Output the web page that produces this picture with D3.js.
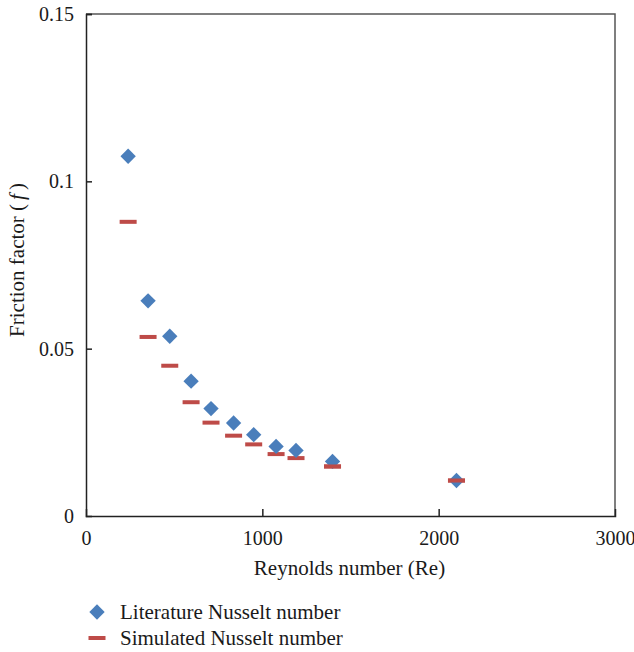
<!DOCTYPE html>
<html>
<head>
<meta charset="utf-8">
<script src="https://cdn.jsdelivr.net/npm/d3@7"></script>
<style>
  body { margin: 0; background: #fff; }
  text { font-family: 'Liberation Serif', 'DejaVu Serif', serif; fill: #1a1a1a; }
</style>
</head>
<body>
<div id="chart"></div>
<script>
// Reynolds numbers
var reynolds = [239, 352, 475, 596, 709, 837, 951, 1078, 1191, 1398, 2101]
// friction factors
var literature = [0.1075, 0.0643, 0.0537, 0.0403, 0.0321, 0.0278, 0.0243, 0.0208, 0.0196, 0.0163, 0.0106]
var simulated = [0.0879, 0.0535, 0.0449, 0.0340, 0.0279, 0.0240, 0.0214, 0.0185, 0.0173, 0.0148, 0.0106]
var xTicks = [0, 1000, 2000, 3000]
var yTicks = [0, 0.05, 0.1, 0.15]
var legendNames = ['Literature Nusselt number', 'Simulated Nusselt number']

const WIDTH = 634
const HEIGHT = 652
var margin = {top: 14, right: 19, bottom: 136, left: 86}
var w = WIDTH - margin.left - margin.right
var h = HEIGHT - margin.top - margin.bottom

var blue = '#4a7ebb'
var red = '#be4b48'

var svg = d3.select('#chart').append('svg')
  .attr('width', WIDTH)
  .attr('height', HEIGHT)

var g = svg.append('g')
  .attr('transform', 'translate(' + margin.left + ',' + margin.top + ')')

var x = d3.scaleLinear().domain([0, 3000]).range([0, w])
var y = d3.scaleLinear().domain([0, 0.15]).range([h, 0])

// frame (top and right)
g.append('path')
  .attr('d', 'M0,0H' + w + 'V' + h)
  .attr('fill', 'none')
  .attr('stroke', '#555')
  .attr('stroke-width', 1.5)

// x axis, ticks point inward
var xAxis = g.append('g')
  .attr('transform', 'translate(0,' + h + ')')
  .call(d3.axisBottom(x).tickValues(xTicks).tickSize(-7).tickPadding(15).tickFormat(d3.format('d')))
xAxis.select('.domain').attr('stroke', '#222').attr('stroke-width', 1.5)
xAxis.selectAll('.tick line').attr('stroke', '#222').attr('stroke-width', 1.5)
  .filter(function (d) { return d === 0 || d === 3000 }).remove()
xAxis.selectAll('text').style('font-size', '20px').attr('fill', '#1a1a1a')

// y axis, ticks point inward
var yAxis = g.append('g')
  .call(d3.axisLeft(y).tickValues(yTicks).tickSize(-6).tickPadding(12).tickFormat(function (d) { return d === 0 ? '0' : String(+d.toFixed(2)) }))
yAxis.select('.domain').attr('stroke', '#222').attr('stroke-width', 1.5)
yAxis.selectAll('.tick line').attr('stroke', '#222').attr('stroke-width', 1.5)
  .filter(function (d) { return d === 0 }).remove()
yAxis.selectAll('text').style('font-size', '20px').attr('fill', '#1a1a1a')

// axis titles
g.append('text')
  .attr('x', 349.5 - margin.left)
  .attr('y', 575 - margin.top)
  .attr('text-anchor', 'middle')
  .style('font-size', '21px')
  .text('Reynolds number (Re)')

var yTitle = g.append('text')
  .attr('transform', 'translate(' + (24 - margin.left) + ',' + (260 - margin.top) + ') rotate(-90)')
  .attr('text-anchor', 'middle')
  .style('font-size', '21px')
yTitle.append('tspan').text('Friction factor (')
yTitle.append('tspan').style('font-style', 'italic').attr('dx', 4).text('f')
yTitle.append('tspan').attr('dx', 4).text(')')

var diamond = d3.symbol().type(d3.symbolDiamond2).size(150)

var points = reynolds.map(function (re, i) {
  return {re: re, lit: literature[i], sim: simulated[i]}
})

// simulated dashes
g.selectAll('.sim')
  .data(points)
  .enter()
  .append('rect')
  .attr('class', 'sim')
  .attr('x', function (d) { return x(d.re) - 8.5 })
  .attr('y', function (d) { return y(d.sim) - 2 })
  .attr('width', 17)
  .attr('height', 4)
  .attr('fill', red)

// literature diamonds
g.selectAll('.lit')
  .data(points)
  .enter()
  .append('path')
  .attr('class', 'lit')
  .attr('d', diamond)
  .attr('transform', function (d) { return 'translate(' + x(d.re) + ',' + y(d.lit) + ')' })
  .attr('fill', blue)

// dashes that sit on top of a diamond
g.selectAll('.sim2')
  .data(points.filter(function (d) { return Math.abs(d.sim - d.lit) < 0.002 }))
  .enter()
  .append('rect')
  .attr('class', 'sim2')
  .attr('x', function (d) { return x(d.re) - 8.5 })
  .attr('y', function (d) { return y(d.sim) - 2 })
  .attr('width', 17)
  .attr('height', 4)
  .attr('fill', red)

// legend
var legend = svg.append('g').attr('transform', 'translate(97,612)')
legend.append('path')
  .attr('d', diamond)
  .attr('fill', blue)
legend.append('rect')
  .attr('x', -8.5).attr('y', 24).attr('width', 17).attr('height', 4)
  .attr('fill', red)
legend.selectAll('.lt')
  .data(legendNames)
  .enter()
  .append('text')
  .attr('x', 23)
  .attr('y', function (d, i) { return 7 + i * 26 })
  .style('font-size', '21px')
  .text(function (d) { return d })
</script>
</body>
</html>
